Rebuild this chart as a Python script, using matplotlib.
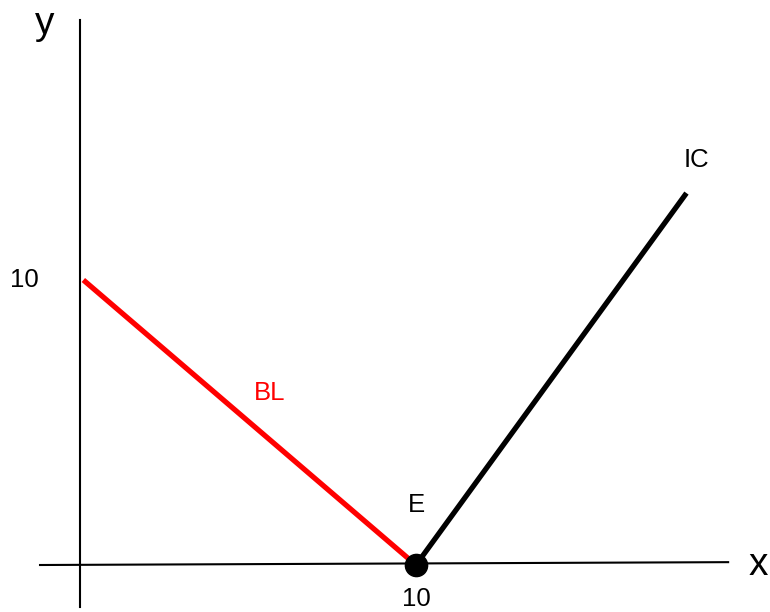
import matplotlib
matplotlib.use("Agg")
import matplotlib.pyplot as plt

# ---------- Data ----------
bl_x = [0.1, 9.85]
bl_y = [10.0, 0.15]
ic_x = [10.0, 18.05]
ic_y = [0.0, 13.05]
eq_x = [10.0]
eq_y = [0.0]
xaxis_x = [-1.19, 19.29]
xaxis_y = [0.0, 0.1]
yaxis_x = [0.0, 0.0]
yaxis_y = [-1.47, 19.12]

plt.rcParams["font.family"] = ["Liberation Sans", "DejaVu Sans"]

fig = plt.figure(figsize=(7.7, 6.12), dpi=100)
ax = fig.add_axes([0, 0, 1, 1])
ax.set_xlim(-2.381, 20.536)
ax.set_ylim(-1.649, 19.825)
ax.axis("off")

# hand-drawn axes
ax.plot(xaxis_x, xaxis_y, color="black", lw=1.5)
ax.plot(yaxis_x, yaxis_y, color="black", lw=1.5)

ax.plot(bl_x, bl_y, color="#ff0000", lw=3.8, solid_capstyle="butt")
ax.plot(ic_x, ic_y, color="black", lw=3.8, solid_capstyle="butt")
ax.plot(eq_x, eq_y, "o", color="black", ms=16)

ax.text(-1.05, 19.0, "y", fontsize=28, ha="center", va="center")
ax.text(20.2, 0.0, "x", fontsize=28, ha="center", va="center")
ax.text(-1.65, 10.0, "10", fontsize=18.5, ha="center", va="center")
ax.text(10.0, -1.2, "10", fontsize=18.5, ha="center", va="center")
ax.text(5.65, 6.05, "BL", fontsize=18.5, color="#ff0000", ha="center", va="center")
ax.text(10.0, 2.1, "E", fontsize=18.5, ha="center", va="center")
ax.text(18.35, 14.2, "IC", fontsize=18.5, ha="center", va="center")

fig.savefig("out.png", dpi=100)
